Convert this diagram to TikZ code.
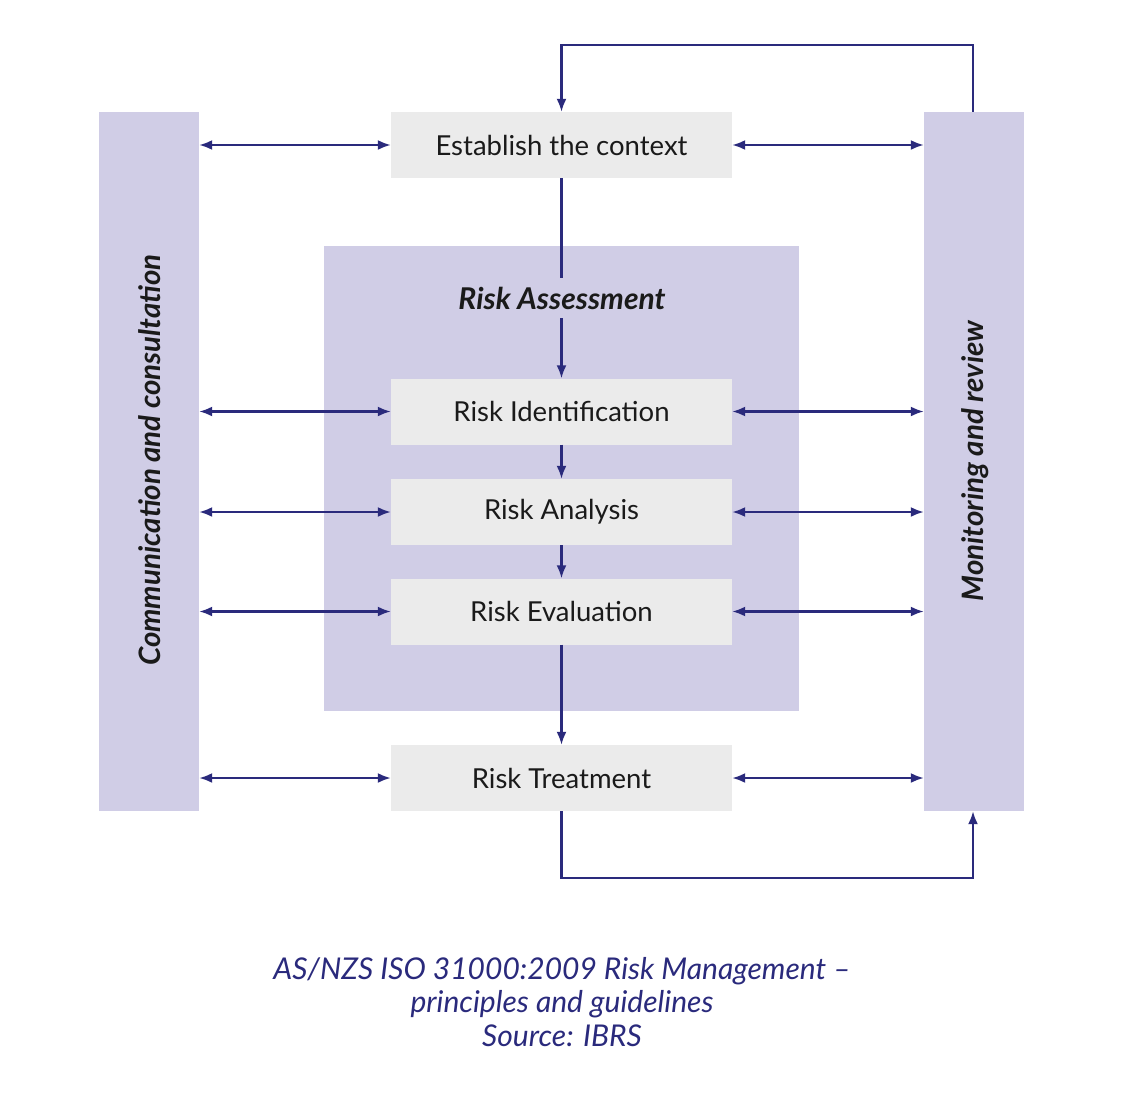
\documentclass[tikz,border=0pt]{standalone}
\usepackage{fontspec}
\setmainfont{Lato}
\usetikzlibrary{arrows.meta}
\definecolor{barcol}{HTML}{D0CDE6}
\definecolor{boxcol}{HTML}{EBEBEB}
\definecolor{navy}{HTML}{2A2A7C}
\definecolor{txt}{HTML}{1A1A1A}
\tikzset{
  bar/.style={fill=barcol, draw=none, minimum width=100pt, minimum height=699pt, inner sep=0pt},
  stage/.style={fill=boxcol, draw=none, minimum width=341pt, minimum height=66pt, inner sep=0pt, font=\fontsize{27.5}{32}\selectfont, text=txt},
  conn/.style={draw=navy, line width=2.2pt},
  tip/.style={-{Latex[length=13pt,width=10pt]}},
  dtip/.style={{Latex[length=13pt,width=10pt]}-{Latex[length=13pt,width=10pt]}},
  bartext/.style={font=\fontsize{29.5}{34}\selectfont\bfseries\itshape, text=txt, rotate=90},
}
\begin{document}
\begin{tikzpicture}[x=1pt,y=-1pt]
\useasboundingbox (0,0) rectangle (1123,1092);
\node[bar] (lb) at (149,461.5) {};
\node[bar] (rb) at (974,461.5) {};
\node[fill=barcol, minimum width=475pt, minimum height=465pt, inner sep=0pt] (ra) at (561.5,478.5) {};
\node[bartext] (lbt) at (150,460) {Communication and consultation};
\node[bartext] (rbt) at (975,461) {Monitoring and review};
\node[font=\fontsize{30}{34}\selectfont\bfseries\itshape, text=txt] (rat) at (562,298) {Risk Assessment};
\node[stage] (est) at (561.5,145) {Establish the context};
\node[stage] (rid) at (561.5,411.5) {Risk Identification};
\node[stage] (ran) at (561.5,512) {Risk Analysis};
\node[stage] (rev) at (561.5,611.5) {Risk Evaluation};
\node[stage] (rtr) at (561.5,778) {Risk Treatment};
% horizontal double arrows
\foreach \n in {est,rid,ran,rev,rtr}{
  \draw[conn,dtip] (lb.east |- \n.west) -- (\n.west);
  \draw[conn,dtip] (\n.east) -- (rb.west |- \n.east);
}
% vertical chain
\coordinate (c1) at (561.5,278);
\coordinate (c2) at (561.5,318);
\draw[conn] (est.south) -- (c1);
\draw[conn,tip] (c2) -- (rid.north);
\draw[conn,tip] (rid.south) -- (ran.north);
\draw[conn,tip] (ran.south) -- (rev.north);
\draw[conn,tip] (rev.south) -- (rtr.north);
% feedback loops
\coordinate (t1) at (973,45);
\coordinate (t2) at (561.5,45);
\draw[conn,tip] (rb.north -| t1) -- (t1) -- (t2) -- (est.north);
\coordinate (b1) at (561.5,878);
\coordinate (b2) at (973,878);
\draw[conn,tip] (rtr.south) -- (b1) -- (b2) -- (rb.south -| b2);
% caption
\node[font=\fontsize{30}{33.5}\selectfont\itshape, text=navy, align=center] (cap) at (562,1002)
  {AS/NZS ISO 31000:2009 Risk Management –\\principles and guidelines\\Source: IBRS};
\end{tikzpicture}
\end{document}
